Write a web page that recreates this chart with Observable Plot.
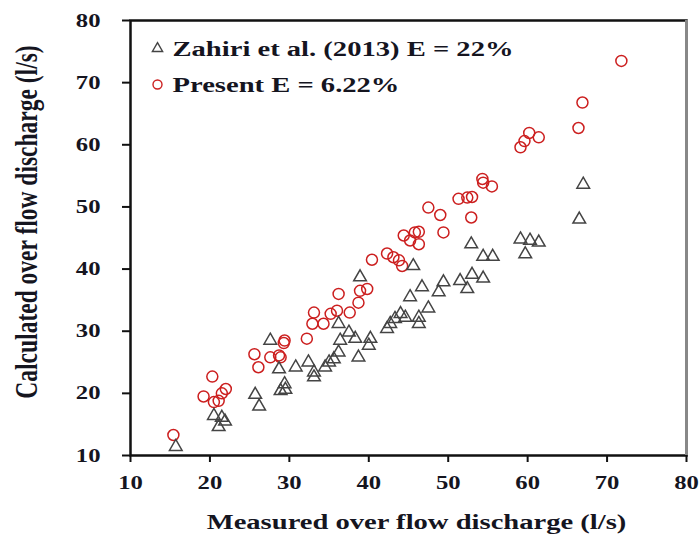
<!DOCTYPE html>
<html>
<head>
<meta charset="utf-8">
<script src="https://cdn.jsdelivr.net/npm/d3@7"></script>
<script src="https://cdn.jsdelivr.net/npm/@observablehq/plot@0.6"></script>
<style>
  html, body { margin: 0; padding: 0; background: #fff; }
  #chart { width: 700px; height: 534px; }
</style>
</head>
<body>
<div id="chart"></div>
<script>
// Measured vs calculated overflow discharge (l/s)
const zahiriMeasured = [15.7, 20.5, 21.1, 21.5, 21.9, 25.7, 26.2, 27.6, 28.7, 28.9, 29.4, 29.5, 30.8, 32.4, 33.1, 33.1, 34.5, 35.0, 35.6, 36.2, 36.2, 36.4, 37.5, 38.3, 38.7, 38.9, 40.0, 40.2, 42.3, 42.7, 43.3, 44.0, 44.6, 45.2, 45.6, 46.3, 46.3, 46.7, 47.5, 48.8, 49.4, 51.5, 52.4, 53.0, 52.9, 54.4, 54.4, 55.6, 59.1, 59.7, 60.3, 61.4, 66.5, 67.0];
const zahiriCalculated = [11.4, 16.4, 14.6, 16.1, 15.5, 19.8, 17.9, 28.5, 23.9, 20.4, 21.5, 20.6, 24.2, 25.0, 23.4, 22.6, 24.2, 25.0, 25.5, 26.6, 31.2, 28.5, 29.8, 28.8, 25.8, 38.7, 27.7, 28.8, 30.4, 31.2, 32.0, 32.8, 32.2, 35.5, 40.5, 32.2, 31.2, 37.1, 33.7, 36.3, 37.9, 38.1, 36.8, 39.1, 44.0, 42.0, 38.5, 42.0, 44.8, 42.4, 44.6, 44.3, 48.0, 53.6];

const presentMeasured = [15.4, 19.2, 20.3, 20.5, 21.1, 21.5, 22.0, 25.6, 26.1, 27.6, 28.7, 28.9, 29.3, 29.4, 32.2, 32.9, 33.1, 34.3, 35.2, 36.0, 36.2, 37.6, 38.7, 38.9, 39.8, 40.4, 42.3, 43.1, 43.8, 44.2, 44.4, 45.2, 45.8, 46.3, 46.3, 47.5, 49.0, 49.4, 51.3, 52.4, 53.0, 52.9, 54.3, 54.4, 55.5, 59.1, 59.6, 60.2, 61.4, 66.4, 66.9, 71.8];
const presentCalculated = [13.3, 19.5, 22.7, 18.6, 18.8, 20.0, 20.7, 26.3, 24.2, 25.8, 26.1, 25.8, 28.1, 28.5, 28.8, 31.2, 33.0, 31.2, 32.8, 33.3, 36.0, 33.0, 34.6, 36.5, 36.8, 41.5, 42.5, 41.9, 41.4, 40.5, 45.4, 44.6, 45.9, 46.0, 44.0, 49.9, 48.7, 45.9, 51.3, 51.5, 51.6, 48.3, 54.5, 53.9, 53.3, 59.6, 60.6, 61.9, 61.2, 62.7, 66.8, 73.5];

const xTicks = [10, 20, 30, 40, 50, 60, 70, 80];
const yTicks = [10, 20, 30, 40, 50, 60, 70, 80];
const xTitle = "Measured over flow discharge (l/s)";
const yTitle = "Calculated over flow discharge (l/s)";
const zahiriLabel = "Zahiri et al. (2013) E = 22%";
const presentLabel = "Present E = 6.22%";

const zahiri = zahiriMeasured.map((m, i) => ({measured: m, calculated: zahiriCalculated[i]}));
const present = presentMeasured.map((m, i) => ({measured: m, calculated: presentCalculated[i]}));

const RED = "#cc1f1f";
const GREY = "#444";
const INK = "#15151f";

const chart = Plot.plot({
  width: 700,
  height: 534,
  marginLeft: 130,
  marginRight: 14,
  marginTop: 20,
  marginBottom: 79,
  x: {domain: [10, 80]},
  y: {domain: [10, 80]},
  style: {fontFamily: "'Liberation Serif', 'Times New Roman', serif", fontWeight: "bold", fontSize: "19px", color: INK, background: "#fff"},
  marks: [
    Plot.axisX(xTicks, {tickSize: 7, tickPadding: 13, label: null, stroke: "#111", strokeWidth: 2, fill: INK, fontSize: 19, fontWeight: "bold"}),
    Plot.axisY(yTicks, {tickSize: 8, tickPadding: 22, label: null, stroke: "#111", strokeWidth: 2, fill: INK, fontSize: 19, fontWeight: "bold"}),
    Plot.dot(present, {x: "measured", y: "calculated", r: 5.5, stroke: RED, strokeWidth: 1.5}),
    Plot.dot(zahiri, {x: "measured", y: "calculated", symbol: "triangle", r: 4.7, stroke: GREY, strokeWidth: 1.5}),
    Plot.frame({stroke: "#111", strokeWidth: 2.5}),
    Plot.ruleX([80], {stroke: "#888", strokeWidth: 3}),
    // legend
    Plot.dot([zahiriLabel], {frameAnchor: "top-left", dx: 27, dy: 28, symbol: "triangle", r: 3.8, stroke: GREY, strokeWidth: 1.4}),
    Plot.dot([presentLabel], {frameAnchor: "top-left", dx: 27, dy: 64, r: 4.5, stroke: RED, strokeWidth: 1.4}),
    Plot.text([zahiriLabel], {frameAnchor: "top-left", dx: 42, dy: 28, text: d => d, textAnchor: "start", lineAnchor: "middle", fill: INK, fontSize: 22, fontWeight: "bold"}),
    Plot.text([presentLabel], {frameAnchor: "top-left", dx: 42, dy: 64, text: d => d, textAnchor: "start", lineAnchor: "middle", fill: INK, fontSize: 22, fontWeight: "bold"}),
    // axis titles
    Plot.text([xTitle], {frameAnchor: "bottom", dx: 8, dy: 66, text: d => d, textAnchor: "middle", lineAnchor: "middle", fill: INK, fontSize: 22, fontWeight: "bold"}),
    Plot.text([yTitle], {frameAnchor: "left", dx: -103, dy: -16, rotate: -90, text: d => d, textAnchor: "middle", lineAnchor: "middle", fill: INK, fontSize: 23.5, fontWeight: "bold"})
  ]
});

document.getElementById("chart").appendChild(chart);

// The lettering is set wide: stretch every label across the page about its own anchor point.
const STRETCH = 1.3;
const num = v => {
  const n = Number(v);
  return v != null && /^\s*-?[\d.]+\s*$/.test(v) && isFinite(n) ? n : 0;
};
chart.querySelectorAll("text").forEach(t => {
  const ax = num(t.getAttribute("x"));
  const ay = num(t.getAttribute("y"));
  const tr = t.getAttribute("transform") || "";
  const rotated = /rotate\(/.test(tr) || !!t.parentNode.closest("[transform*='rotate']");
  const s = rotated
    ? ` translate(0,${ay}) scale(1,${STRETCH}) translate(0,${-ay})`
    : ` translate(${ax},0) scale(${STRETCH},1) translate(${-ax},0)`;
  t.setAttribute("transform", tr + s);
});
</script>
</body>
</html>
